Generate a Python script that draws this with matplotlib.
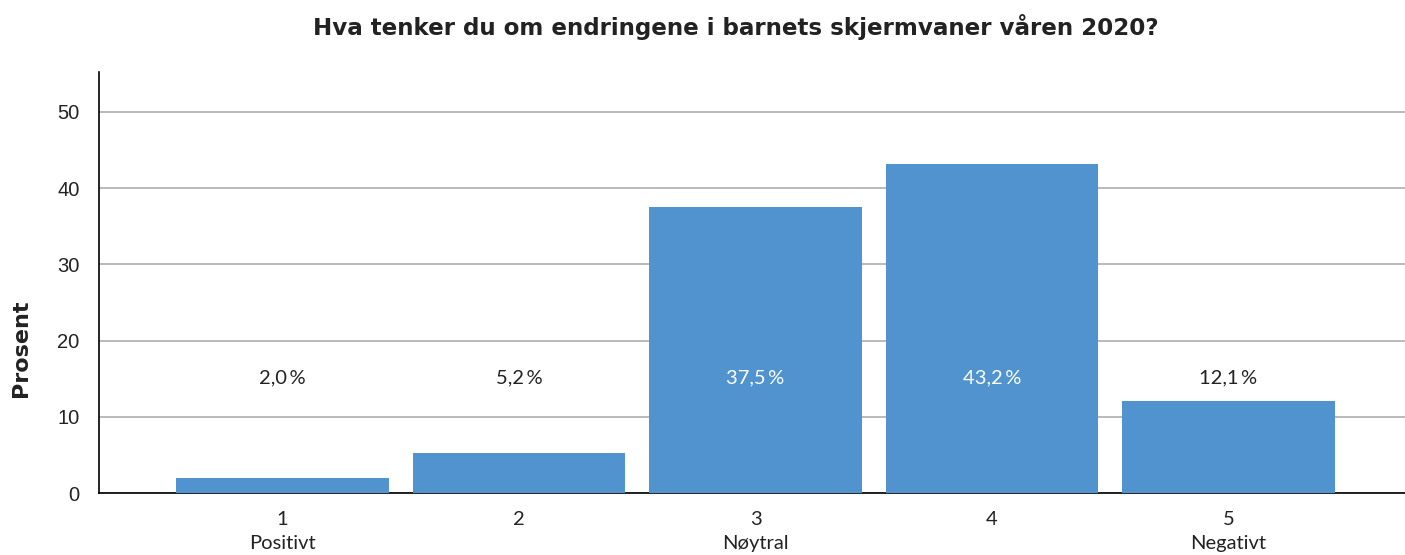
import matplotlib
matplotlib.use("Agg")
import matplotlib.pyplot as plt

# ── Data ──
kategorier = ["1\nPositivt", "2", "3\nNøytral", "4", "5\nNegativt"]
prosent = [2.0, 5.2, 37.5, 43.2, 12.1]
etiketter = ["2,0\u2009%", "5,2\u2009%", "37,5\u2009%", "43,2\u2009%", "12,1\u2009%"]
y_ticks = [0, 10, 20, 30, 40, 50]

BAR_COLOR = "#5093ce"
GRID_COLOR = "#b4b4b4"
TEXT_COLOR = "#222222"

fig = plt.figure(figsize=(14.05, 5.55), dpi=100)
ax = fig.add_axes([0.0705, 0.1117, 0.9345, 0.7586])

x = list(range(len(kategorier)))
ax.bar(x, prosent, width=0.9, color=BAR_COLOR, zorder=3)

# etiketter i fast høyde
label_y = 15.1
for xi, v, txt in zip(x, prosent, etiketter):
    farge = "white" if v > label_y + 2 else TEXT_COLOR
    ax.text(xi, label_y, txt, ha="center", va="center", fontsize=14.5,
            family=["Lato", "DejaVu Sans"], color=farge, zorder=4)

ax.set_xlim(-0.776, len(kategorier) - 1 + 0.776)
ax.set_ylim(0, 55.25)
ax.set_yticks(y_ticks)
ax.set_xticks(x)
ax.set_xticklabels(kategorier, family="Lato", fontsize=14.5, color=TEXT_COLOR,
                   linespacing=1.5)
for lab in ax.get_yticklabels():
    lab.set_family("Liberation Sans")
    lab.set_fontsize(14.5)
    lab.set_color(TEXT_COLOR)
ax.tick_params(axis="both", length=0)
ax.tick_params(axis="y", pad=14)
ax.tick_params(axis="x", pad=13)

ax.grid(axis="y", color=GRID_COLOR, linewidth=1.3, zorder=0)
ax.spines["top"].set_visible(False)
ax.spines["right"].set_visible(False)
ax.spines["left"].set_color("black")
ax.spines["bottom"].set_color("black")
ax.spines["left"].set_linewidth(1.2)
ax.spines["bottom"].set_linewidth(1.2)

ax.set_ylabel("Prosent", fontsize=16, fontweight="bold", family="DejaVu Sans",
              color=TEXT_COLOR)
ax.yaxis.set_label_coords(-0.052, 0.344)

fig.text(0.5235, 1 - 27 / 555, "Hva tenker du om endringene i barnets skjermvaner våren 2020?",
         ha="center", va="center", fontsize=16.6, fontweight="bold",
         family="DejaVu Sans", color=TEXT_COLOR)

fig.savefig("out.png", dpi=100, facecolor="white")
